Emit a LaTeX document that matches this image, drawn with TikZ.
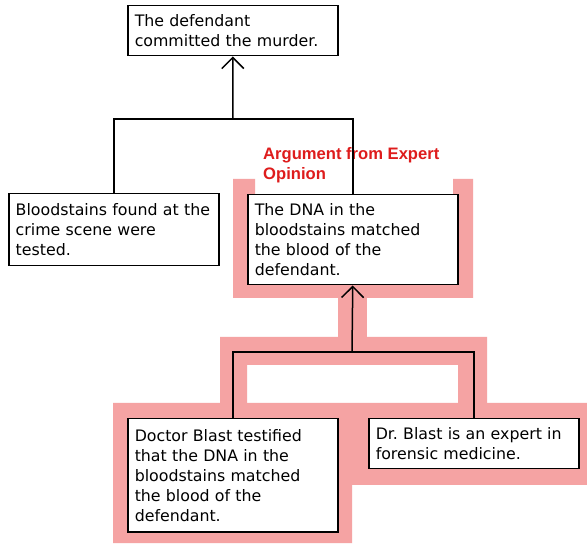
\documentclass[tikz,border=0pt]{standalone}
\usepackage{fontspec}
\setmainfont{DejaVu Sans}
\newfontfamily\labelfont{Liberation Sans}
\usetikzlibrary{arrows.meta}
\frenchspacing
\definecolor{pinkzone}{RGB}{245,163,163}
\definecolor{schemered}{RGB}{222,28,28}
\tikzset{
  claim/.style={draw=black, line width=1.5pt, fill=white, anchor=north west,
    inner xsep=7pt, inner ysep=3pt, text width=196pt, align=left,
    font=\fontsize{15.8pt}{20pt}\selectfont},
  link/.style={line width=1.5pt, black},
  arr/.style={link, -{Straight Barb[length=11pt,width=22pt]}},
  schemelabel/.style={anchor=north west, inner sep=0pt, align=left, text=schemered,
    font=\labelfont\bfseries\fontsize{16.6pt}{20pt}\selectfont}
}
\begin{document}
\begin{tikzpicture}[x=1pt,y=-1pt]
\useasboundingbox (0,0) rectangle (587,545);
\fill[white] (0,0) rectangle (587,545);

% shaded region marking the expert-opinion argument
\fill[pinkzone] (233,179) -- (255,179) -- (255,284) -- (453,284) -- (453,179)
  -- (473,179) -- (473,298) -- (233,298) -- cycle;
\fill[pinkzone] (338,297) rectangle (367,338);
\fill[pinkzone] (220,337) -- (487,337) -- (487,404) -- (458,404) -- (458,365)
  -- (247,365) -- (247,404) -- (220,404) -- cycle;
\fill[pinkzone] (113,403) -- (587,403) -- (587,485) -- (352,485) -- (352,543)
  -- (113,543) -- cycle;

% statements
\node[claim, minimum height=50pt] (top) at (127,5) {The defendant\\committed the murder.};
\node[claim, minimum height=72pt] (blood) at (8,193) {Bloodstains found at the\\crime scene were\\tested.};
\node[claim, minimum height=90pt] (dna) at (247,194) {The DNA in the\\bloodstains matched\\the blood of the\\defendant.};
\node[claim, minimum height=113pt] (testify) at (127,418) {Doctor Blast testified\\that the DNA in the\\bloodstains matched\\the blood of the\\defendant.};
\node[claim, minimum height=50pt] (expert) at (368,418) {Dr. Blast is an expert in\\forensic medicine.};

\node[schemelabel] (scheme) at (263,147) {Argument from Expert\\Opinion};

% first argument
\coordinate (j1) at (233,119);
\draw[link] (blood.north) |- (j1) -| (dna.north);
\draw[arr] (j1) -- (top.south);

% expert opinion argument
\coordinate (j2) at (352,352);
\draw[link] (testify.north) |- (j2) -| (expert.north);
\draw[arr] (j2) -- (dna.south);
\end{tikzpicture}
\end{document}
